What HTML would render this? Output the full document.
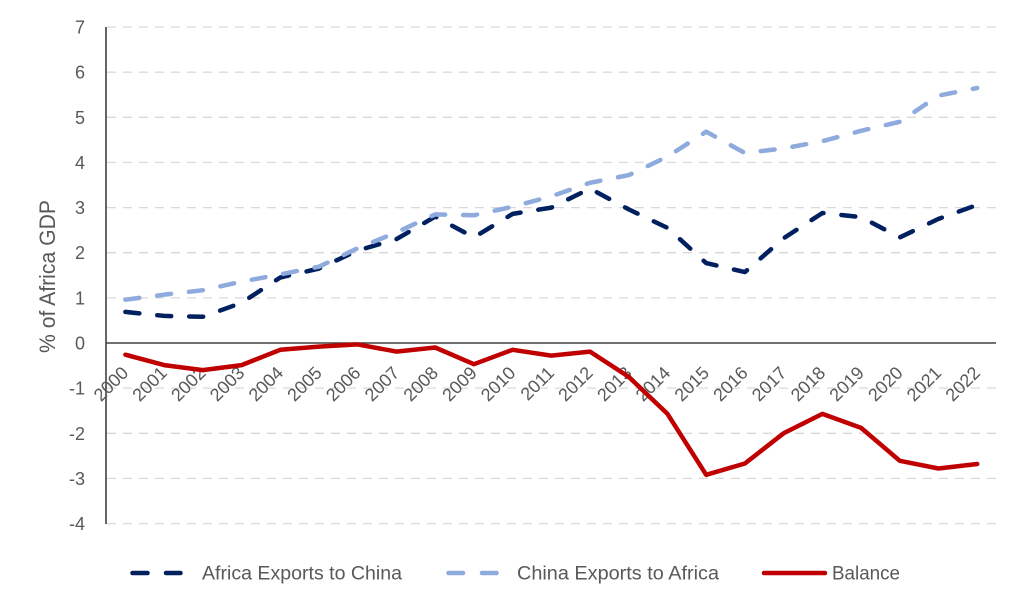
<!DOCTYPE html>
<html>
<head>
<meta charset="utf-8">
<style>
html,body{margin:0;padding:0;background:#fff;}
svg{display:block;}
text{font-family:"Liberation Sans",sans-serif;fill:#595959;}
</style>
</head>
<body>
<svg width="1024" height="608" viewBox="0 0 1024 608" xmlns="http://www.w3.org/2000/svg">
<rect width="1024" height="608" fill="#fff"/>
<!-- gridlines -->
<g stroke="#d9d9d9" stroke-width="1.3" stroke-dasharray="9 7" fill="none">
<line x1="107" y1="27" x2="996" y2="27"/>
<line x1="107" y1="72.2" x2="996" y2="72.2"/>
<line x1="107" y1="117.3" x2="996" y2="117.3"/>
<line x1="107" y1="162.4" x2="996" y2="162.4"/>
<line x1="107" y1="207.6" x2="996" y2="207.6"/>
<line x1="107" y1="252.7" x2="996" y2="252.7"/>
<line x1="107" y1="297.9" x2="996" y2="297.9"/>
<line x1="107" y1="388.1" x2="996" y2="388.1"/>
<line x1="107" y1="433.3" x2="996" y2="433.3"/>
<line x1="107" y1="478.4" x2="996" y2="478.4"/>
<line x1="107" y1="523.6" x2="996" y2="523.6"/>
</g>
<!-- axes -->
<line x1="106" y1="27" x2="106" y2="524" stroke="#404040" stroke-width="1.6"/>
<line x1="106" y1="343" x2="996" y2="343" stroke="#404040" stroke-width="1.6"/>
<!-- y tick labels -->
<g font-size="18" text-anchor="end">
<text x="85" y="33.5">7</text>
<text x="85" y="78.7">6</text>
<text x="85" y="123.8">5</text>
<text x="85" y="168.9">4</text>
<text x="85" y="214.1">3</text>
<text x="85" y="259.2">2</text>
<text x="85" y="304.4">1</text>
<text x="85" y="349.5">0</text>
<text x="85" y="394.6">-1</text>
<text x="85" y="439.8">-2</text>
<text x="85" y="484.9">-3</text>
<text x="85" y="530.1">-4</text>
</g>
<!-- y axis title -->
<text transform="translate(55,276.5) rotate(-90)" font-size="22" text-anchor="middle" textLength="153" lengthAdjust="spacingAndGlyphs">% of Africa GDP</text>
<!-- x tick labels -->
<g font-size="18" text-anchor="end">
<text transform="translate(129.4,374) rotate(-45)">2000</text>
<text transform="translate(168.1,374) rotate(-45)">2001</text>
<text transform="translate(206.8,374) rotate(-45)">2002</text>
<text transform="translate(245.6,374) rotate(-45)">2003</text>
<text transform="translate(284.3,374) rotate(-45)">2004</text>
<text transform="translate(323.0,374) rotate(-45)">2005</text>
<text transform="translate(361.7,374) rotate(-45)">2006</text>
<text transform="translate(400.4,374) rotate(-45)">2007</text>
<text transform="translate(439.2,374) rotate(-45)">2008</text>
<text transform="translate(477.9,374) rotate(-45)">2009</text>
<text transform="translate(516.6,374) rotate(-45)">2010</text>
<text transform="translate(555.3,374) rotate(-45)">2011</text>
<text transform="translate(594.0,374) rotate(-45)">2012</text>
<text transform="translate(632.8,374) rotate(-45)">2013</text>
<text transform="translate(671.5,374) rotate(-45)">2014</text>
<text transform="translate(710.2,374) rotate(-45)">2015</text>
<text transform="translate(748.9,374) rotate(-45)">2016</text>
<text transform="translate(787.6,374) rotate(-45)">2017</text>
<text transform="translate(826.4,374) rotate(-45)">2018</text>
<text transform="translate(865.1,374) rotate(-45)">2019</text>
<text transform="translate(903.8,374) rotate(-45)">2020</text>
<text transform="translate(942.5,374) rotate(-45)">2021</text>
<text transform="translate(981.2,374) rotate(-45)">2022</text>
</g>
<!-- series -->
<polyline fill="none" stroke="#002060" stroke-width="4.5" stroke-linecap="round" stroke-linejoin="round" stroke-dasharray="14 18"
points="125.4,311.9 164.1,315.9 202.8,316.8 241.6,302.8 280.3,277.5 319.0,268.5 357.7,250.5 396.4,239.2 435.2,216.6 473.9,237.4 512.6,213.9 551.3,207.6 590.0,188.6 628.8,209.4 667.5,227.9 706.2,263.1 744.9,272.1 783.6,238.3 822.4,213.0 861.1,217.1 899.8,237.4 938.5,218.9 977.2,204.9"/>
<polyline fill="none" stroke="#8faadc" stroke-width="4.5" stroke-linecap="round" stroke-linejoin="round" stroke-dasharray="14 18"
points="125.4,299.7 164.1,294.7 202.8,290.2 241.6,281.6 280.3,274.4 319.0,266.7 357.7,248.2 396.4,232.4 435.2,214.4 473.9,215.3 512.6,206.7 551.3,196.3 590.0,182.8 628.8,175.1 667.5,156.6 706.2,131.7 744.9,153.0 783.6,148.4 822.4,141.2 861.1,130.8 899.8,121.8 938.5,95.6 977.2,88.0"/>
<polyline fill="none" stroke="#c00000" stroke-width="4.5" stroke-linecap="round" stroke-linejoin="round"
points="125.4,354.7 164.1,365.1 202.8,370.1 241.6,365.1 280.3,349.8 319.0,346.6 357.7,344.4 396.4,351.6 435.2,347.5 473.9,364.2 512.6,349.8 551.3,355.6 590.0,351.6 628.8,376.9 667.5,413.9 706.2,474.8 744.9,463.5 783.6,433.3 822.4,413.9 861.1,427.9 899.8,460.8 938.5,468.5 977.2,464.0"/>
<!-- legend -->
<g stroke-width="4.5" stroke-linecap="round" fill="none">
<line x1="132.5" y1="573" x2="147.5" y2="573" stroke="#002060"/>
<line x1="166" y1="573" x2="180.5" y2="573" stroke="#002060"/>
<line x1="448.5" y1="573" x2="463" y2="573" stroke="#8faadc"/>
<line x1="482" y1="573" x2="496.5" y2="573" stroke="#8faadc"/>
<line x1="764" y1="573" x2="825" y2="573" stroke="#c00000"/>
</g>
<g font-size="19">
<text x="202" y="579.5" textLength="200" lengthAdjust="spacingAndGlyphs">Africa Exports to China</text>
<text x="517" y="579.5" textLength="202" lengthAdjust="spacingAndGlyphs">China Exports to Africa</text>
<text x="832" y="579.5" textLength="68" lengthAdjust="spacingAndGlyphs">Balance</text>
</g>
</svg>
</body>
</html>
